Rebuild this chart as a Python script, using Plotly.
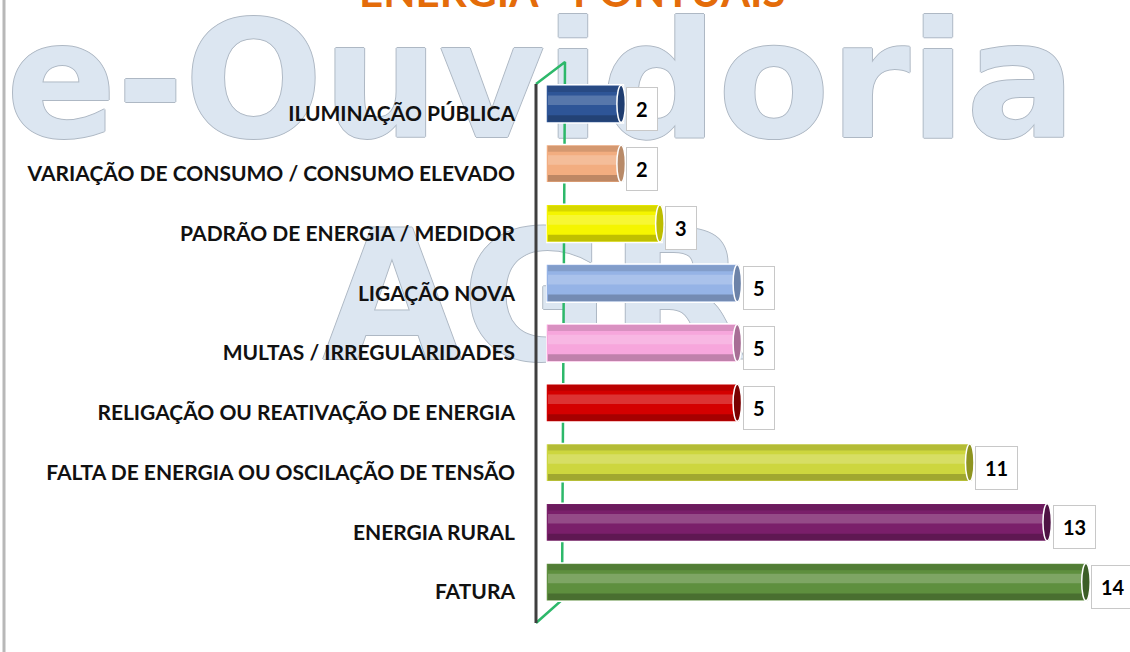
import plotly.graph_objects as go

# ---------------- data (top-to-bottom as shown) ----------------
categories = [
    "ILUMINAÇÃO PÚBLICA",
    "VARIAÇÃO DE CONSUMO / CONSUMO ELEVADO",
    "PADRÃO DE ENERGIA / MEDIDOR",
    "LIGAÇÃO NOVA",
    "MULTAS / IRREGULARIDADES",
    "RELIGAÇÃO OU REATIVAÇÃO DE ENERGIA",
    "FALTA DE ENERGIA OU OSCILAÇÃO DE TENSÃO",
    "ENERGIA RURAL",
    "FATURA",
]
values = [2, 2, 3, 5, 5, 5, 11, 13, 14]
bar_colors = ["#2E5597", "#F2AD80", "#F5F500", "#95B3E6", "#F7A6DC",
              "#D40000", "#CDD63E", "#7A1F6A", "#5E8F3E"]
cap_colors = ["#1F3D70", "#B88A68", "#BDBD00", "#6C82A8", "#A86E95",
              "#7A0000", "#8E9420", "#4E1244", "#3C5E27"]
title_text = "ENERGIA - PONTUAIS"
watermarks = ["e-Ouvidoria", "AGR"]

# ---------------- geometry ----------------
W, H = 1130, 652
L, R = 546, 1127      # bar plot area (px)
T, B = 74, 612

# plot bottom-up
cats = categories[::-1]
vals = values[::-1]
cols = bar_colors[::-1]
caps = cap_colors[::-1]

fig = go.Figure()

# --- background layer (pixel coordinates on main axes) ---
fig.add_trace(go.Scatter(
    x=[541, 535], y=[96, 314], text=watermarks, mode="text",
    textposition="middle center", cliponaxis=False, hoverinfo="skip",
    textfont=dict(family="DejaVu Sans", size=[163, 180], color="#DCE6F1",
                  weight="bold",
                  shadow="1px 0 0 #AEB8C4, -1px 0 0 #AEB8C4, 0 1px 0 #AEB8C4, 0 -1px 0 #AEB8C4"),
    showlegend=False, xaxis="x", yaxis="y"))

# 3D frame lines
fig.add_trace(go.Scatter(x=[536, 565, 562, 536], y=[84, 62, 600, 623], mode="lines",
                         line=dict(color="#2DB86A", width=2.5), hoverinfo="skip",
                         showlegend=False, xaxis="x", yaxis="y"))
fig.add_trace(go.Scatter(x=[536, 536], y=[84, 623], mode="lines",
                         line=dict(color="#3F3F3F", width=3), hoverinfo="skip",
                         showlegend=False, xaxis="x", yaxis="y"))
fig.add_trace(go.Scatter(x=[4, 4], y=[0, 652], mode="lines",
                         line=dict(color="#B8B8B8", width=3), hoverinfo="skip",
                         showlegend=False, xaxis="x", yaxis="y"))

# --- bars ---
fig.add_trace(go.Bar(
    x=vals, y=cats, orientation="h", width=0.64, offset=-0.32,
    marker=dict(color=cols, line=dict(color="white", width=1.5)),
    showlegend=False, xaxis="x2", yaxis="y2", hoverinfo="x+y"))
base = 0.05
shade = [v - base for v in vals]
for off, wd, c in [(-0.30, 0.11, "rgba(0,0,0,0.22)"),
                   (0.20, 0.10, "rgba(0,0,0,0.12)"),
                   (-0.02, 0.16, "rgba(255,255,255,0.20)")]:
    fig.add_trace(go.Bar(
        x=shade, y=cats, base=base, orientation="h", width=wd, offset=off,
        marker=dict(color=c, line=dict(width=0)), showlegend=False,
        xaxis="x2", yaxis="y2", hoverinfo="skip"))

shapes = []
annotations = []
for i, (c, v) in enumerate(zip(cats, vals)):
    shapes.append(dict(type="circle", xref="x2", yref="y2",
                       x0=v - 0.17, x1=v + 0.05, y0=i - 0.31, y1=i + 0.31,
                       fillcolor=caps[i], line=dict(color="white", width=1.5)))
    annotations.append(dict(
        x=v, y=c, xref="x2", yref="y2", text=str(v), showarrow=False,
        xanchor="left", xshift=3, yshift=-5, bgcolor="white",
        bordercolor="#C8C8C8", borderwidth=1, borderpad=9,
        font=dict(family="Lato", size=20, color="black", weight="bold")))

annotations.append(dict(
    x=572, y=18, xref="x", yref="y", text=title_text, showarrow=False,
    xanchor="center", yanchor="bottom",
    font=dict(family="Lato", size=42, color="#E46C0A", weight="bold")))

fig.update_layout(
    width=W, height=H, autosize=False,
    margin=dict(l=0, r=0, t=0, b=0),
    paper_bgcolor="white", plot_bgcolor="rgba(0,0,0,0)",
    barmode="overlay",
    xaxis=dict(domain=[0, 1], range=[0, W], visible=False, fixedrange=True),
    yaxis=dict(domain=[0, 1], range=[H, 0], visible=False, fixedrange=True),
    xaxis2=dict(domain=[L / W, R / W], range=[0, 15], visible=False,
                anchor="y2", fixedrange=True),
    yaxis2=dict(domain=[(H - B) / H, (H - T) / H], anchor="x2",
                type="category", categoryorder="array", categoryarray=cats,
                range=[-0.5, 8.5], showgrid=False, zeroline=False,
                showline=False, ticks="", ticklabelstandoff=30,
                ticklabelshift=10, fixedrange=True,
                tickfont=dict(family="Lato", size=21, color="#111111",
                              weight="bold")),
    shapes=shapes, annotations=annotations,
)

fig.write_html(
    "out.html",
    config={"displayModeBar": False},
    post_script="document.body.style.margin='0';document.body.style.overflow='hidden';",
)
